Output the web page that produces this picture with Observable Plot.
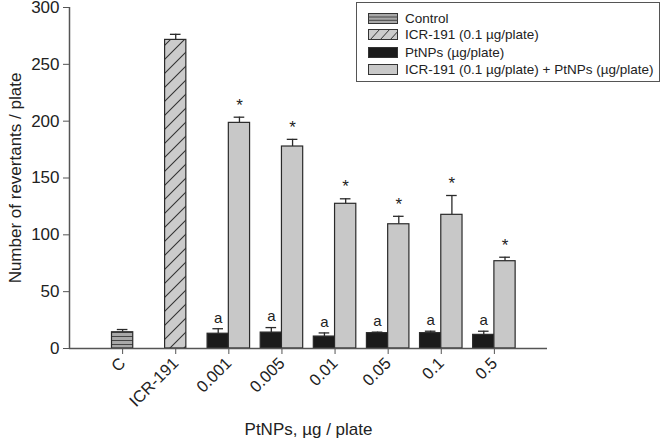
<!DOCTYPE html>
<html>
<head>
<meta charset="utf-8">
<script src="https://cdn.jsdelivr.net/npm/d3@7"></script>
<script src="https://cdn.jsdelivr.net/npm/@observablehq/plot@0.6"></script>
<style>
  html, body { margin: 0; padding: 0; background: white; }
  #wrap { position: relative; width: 663px; height: 445px; font-family: "Liberation Sans", Arial, sans-serif; color: #222; }
  #legend { position: absolute; left: 356px; top: 2px; width: 304px; height: 80px; border: 1.5px solid #555; background: white; box-sizing: border-box; }
  .row { position: absolute; left: 11px; display: flex; align-items: center; font-size: 13.5px; height: 16px; white-space: nowrap; }
  .row svg { margin-right: 7px; }
</style>
</head>
<body>
<div id="wrap"></div>
<script>
// ---- data ----
const categories = ["C", "ICR-191", "0.001", "0.005", "0.01", "0.05", "0.1", "0.5"];
const groups = ["Control", "ICR-191 (0.1 µg/plate)", "PtNPs (µg/plate)", "ICR-191 (0.1 µg/plate) + PtNPs (µg/plate)"];
const doses = ["0.001", "0.005", "0.01", "0.05", "0.1", "0.5"];
const controlMean = [14.3];
const controlErr = [2.4];
const icrMean = [271.5];
const icrErr = [4.9];
const ptnpsMean = [13, 14, 10.5, 13.5, 13.5, 12];
const ptnpsErr = [4.4, 4.4, 3.2, 0.9, 1.7, 3.2];
const comboMean = [198.5, 177.7, 127.3, 109.3, 117.6, 76.8];
const comboErr = [5, 6.3, 4.4, 7, 17, 3.5];
const ptnpsMark = ["a", "a", "a", "a", "a", "a"];
const comboMark = ["*", "*", "*", "*", "*", "*"];
const yTicks = [0, 50, 100, 150, 200, 250, 300];

// ---- build tables ----
const pos = c => categories.indexOf(c) + 1;
const single = [
  {group: groups[0], x1: pos("C") - 0.2, x2: pos("C") + 0.2, mean: controlMean[0], err: controlErr[0]},
  {group: groups[1], x1: pos("ICR-191") - 0.2, x2: pos("ICR-191") + 0.2, mean: icrMean[0], err: icrErr[0]}
];
const ptnps = doses.map((d, i) => ({group: groups[2], x1: pos(d) - 0.4, x2: pos(d), mean: ptnpsMean[i], err: ptnpsErr[i], label: ptnpsMark[i]}));
const combo = doses.map((d, i) => ({group: groups[3], x1: pos(d), x2: pos(d) + 0.4, mean: comboMean[i], err: comboErr[i], label: comboMark[i]}));
const all = [...single, ...ptnps, ...combo].map(d => ({...d, xc: (d.x1 + d.x2) / 2, top: d.mean + d.err}));

const outline = "#2a2a2a";
const chart = Plot.plot({
  width: 663, height: 445,
  marginLeft: 69, marginRight: 116, marginTop: 7, marginBottom: 97,
  x: {domain: [0, 9]},
  y: {domain: [0, 300]},
  style: {fontFamily: "Liberation Sans, Arial, sans-serif", fontSize: "16px", color: "#222", background: "white", overflow: "visible"},
  marks: [
    // error bars (upper half only)
    Plot.ruleX(all, {x: "xc", y1: "mean", y2: "top", stroke: outline, strokeWidth: 1.3}),
    Plot.ruleY(all, {y: "top", x1: d => d.xc - 0.1, x2: d => d.xc + 0.1, stroke: outline, strokeWidth: 1.3}),
    // bars
    Plot.rectY(single.filter(d => d.group === groups[0]), {x1: "x1", x2: "x2", y: "mean", fill: "url(#pControl)", stroke: outline, strokeWidth: 1.2}),
    Plot.rectY(single.filter(d => d.group === groups[1]), {x1: "x1", x2: "x2", y: "mean", fill: "url(#pICR)", stroke: outline, strokeWidth: 1.2}),
    Plot.rectY(ptnps, {x1: "x1", x2: "x2", y: "mean", fill: "#1b1b1b", stroke: outline, strokeWidth: 1.2}),
    Plot.rectY(combo, {x1: "x1", x2: "x2", y: "mean", fill: "#c8c8c8", stroke: outline, strokeWidth: 1.2}),
    // significance letters
    Plot.text(ptnps, {x: d => (d.x1 + d.x2) / 2, y: d => d.mean + d.err, text: "label", dy: -11, fontSize: 15, fill: "#222"}),
    Plot.text(combo, {x: d => (d.x1 + d.x2) / 2, y: d => d.mean + d.err, text: "label", dy: -12, fontSize: 17, fill: "#222"}),
    // axes
    Plot.ruleY([0], {stroke: "#555", strokeWidth: 1.5}),
    Plot.ruleX([0], {stroke: "#555", strokeWidth: 1.5}),
    Plot.axisY({ticks: yTicks, tickSize: 6, tickPadding: 4, label: null, stroke: "#555", fontSize: 17}),
    Plot.axisX({ticks: categories.map((c, i) => i + 1), tickFormat: i => categories[i - 1], tickRotate: -45, tickSize: 6, tickPadding: 6, label: null, stroke: "#555", fontSize: 16.5}),
    // axis titles
    Plot.text(["Number of revertants / plate"], {frameAnchor: "left", textAnchor: "middle", rotate: -90, dx: -54, fontSize: 17, fill: "#222"}),
    Plot.text(["PtNPs, µg / plate"], {frameAnchor: "bottom", dy: 86, fontSize: 17, fill: "#222"})
  ]
});

const defs = `<defs>
  <pattern id="pControl" patternUnits="userSpaceOnUse" width="8" height="4">
    <rect width="8" height="4" fill="#a8a8a8"/>
    <line x1="0" y1="0.5" x2="8" y2="0.5" stroke="#444" stroke-width="1"/>
  </pattern>
  <pattern id="pICR" patternUnits="userSpaceOnUse" width="14" height="14">
    <rect width="14" height="14" fill="#cbcbcb"/>
    <path d="M0,14 L14,0 M-3.5,3.5 L3.5,-3.5 M10.5,17.5 L17.5,10.5" stroke="#333" stroke-width="1.1"/>
  </pattern>
</defs>`;
chart.insertAdjacentHTML("afterbegin", defs);
const wrap = document.getElementById("wrap");
wrap.appendChild(chart);

// legend
const sw = {
  [groups[0]]: `<rect x="0.5" y="0.5" width="29" height="10" fill="#a8a8a8" stroke="#333"/><line x1="0.5" y1="4" x2="29.5" y2="4" stroke="#444"/><line x1="0.5" y1="7.3" x2="29.5" y2="7.3" stroke="#444"/>`,
  [groups[1]]: `<defs><clipPath id="lc"><rect x="0.5" y="0.5" width="29" height="10"/></clipPath></defs><rect x="0.5" y="0.5" width="29" height="10" fill="#cbcbcb"/><g clip-path="url(#lc)" stroke="#333" stroke-width="1"><path d="M2,11 L12,0 M12,11 L22,0 M22,11 L32,0"/></g><rect x="0.5" y="0.5" width="29" height="10" fill="none" stroke="#333"/>`,
  [groups[2]]: `<rect x="0.5" y="0.5" width="29" height="10" fill="#1b1b1b" stroke="#333"/>`,
  [groups[3]]: `<rect x="0.5" y="0.5" width="29" height="10" fill="#c8c8c8" stroke="#333"/>`
};
const legend = document.createElement("div");
legend.id = "legend";
const rowTops = [7, 23, 41, 58];
groups.forEach((g, i) => {
  const r = document.createElement("div");
  r.className = "row";
  r.style.top = rowTops[i] + "px";
  r.innerHTML = `<svg width="30" height="11">${sw[g]}</svg><span>${g}</span>`;
  legend.appendChild(r);
});
wrap.appendChild(legend);
</script>
</body>
</html>
